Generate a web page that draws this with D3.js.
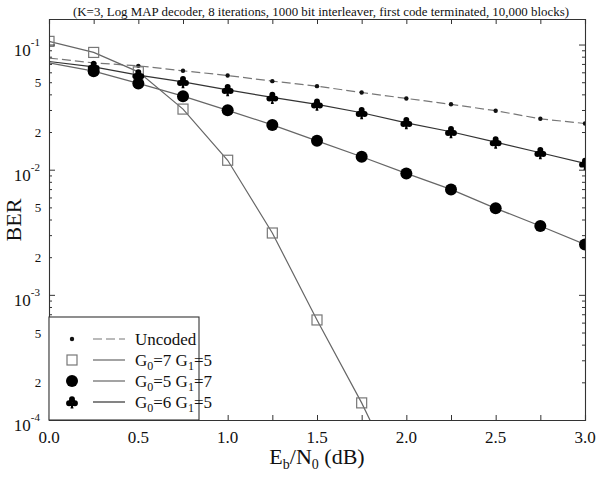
<!DOCTYPE html>
<html>
<head>
<meta charset="utf-8">
<script src="https://cdn.jsdelivr.net/npm/d3@7"></script>
<style>
body { margin: 0; background: #fff; }
svg text { font-family: "Liberation Serif", "DejaVu Serif", serif; fill: #111; }
</style>
</head>
<body>
<svg width="596" height="478" font-family="Liberation Serif"></svg>
<script>
// Eb/N0 points (dB)
var ebno = [0, 0.25, 0.5, 0.75, 1.0, 1.25, 1.5, 1.75, 2.0, 2.25, 2.5, 2.75, 3.0];

// BER values
var uncoded = [0.078, 0.0714, 0.0676, 0.0617, 0.0566, 0.0510, 0.0465, 0.0414, 0.0371, 0.0333, 0.0296, 0.0255, 0.0234];
var g75 = [0.106, 0.0865, 0.0605, 0.0305, 0.0119, 0.00312, 0.00063, 0.000137, 0.000025];
var g57 = [0.0713, 0.0613, 0.0489, 0.0387, 0.0298, 0.0228, 0.0170, 0.01268, 0.00934, 0.00696, 0.00491, 0.00355, 0.00253];
var g65 = [0.0732, 0.0664, 0.0570, 0.0504, 0.0435, 0.0378, 0.0333, 0.0285, 0.0237, 0.0201, 0.0166, 0.01365, 0.01122];

var xTicks = [0, 0.25, 0.5, 0.75, 1.0, 1.25, 1.5, 1.75, 2.0, 2.25, 2.5, 2.75, 3.0];
var xLabels = ["0.0", "0.5", "1.0", "1.5", "2.0", "2.5", "3.0"];
var decades = [1e-4, 1e-3, 1e-2, 1e-1];
var decadeExp = ["-4", "-3", "-2", "-1"];
var minorLabelled = [2, 5];

var titleText = "(K=3, Log MAP decoder, 8 iterations, 1000 bit interleaver, first code terminated, 10,000 blocks)";

var margin = {left: 49, right: 11, top: 19, bottom: 58};
var width = 596, height = 478;

var svg = d3.select("svg");

var x = d3.scaleLinear().domain([0, 3]).range([margin.left, width - margin.right]);
var y = d3.scaleLog().domain([1e-4, 0.16]).range([height - margin.bottom, margin.top]);

// club marker for d3.symbol
var symbolClub = {
  draw: function(ctx, size) {
    var s = Math.sqrt(size);
    function lobe(cx, cy, r) { ctx.moveTo(cx + r, cy); ctx.arc(cx, cy, r, 0, 2 * Math.PI); }
    lobe(0, -0.24 * s, 0.25 * s);
    lobe(-0.25 * s, 0.1 * s, 0.25 * s);
    lobe(0.25 * s, 0.1 * s, 0.25 * s);
    ctx.moveTo(0, 0);
    ctx.lineTo(0.13 * s, 0.55 * s);
    ctx.lineTo(-0.13 * s, 0.55 * s);
    ctx.closePath();
  }
};

var series = [
  {name: "Uncoded", values: uncoded, marker: "dot", dash: "9,4", stroke: "#777", first: 1},
  {name: "G0=7 G1=5", sub: ["7", "5"], values: g75, marker: "square", dash: null, stroke: "#666", first: 0},
  {name: "G0=5 G1=7", sub: ["5", "7"], values: g57, marker: "circle", dash: null, stroke: "#666", first: 1},
  {name: "G0=6 G1=5", sub: ["6", "5"], values: g65, marker: "club", dash: null, stroke: "#333", first: 1}
];

function drawMarker(sel, kind) {
  if (kind === "dot") {
    sel.append("circle").attr("r", 2.2).attr("fill", "#111");
  } else if (kind === "square") {
    sel.append("rect").attr("x", -5).attr("y", -5).attr("width", 10).attr("height", 10)
      .attr("fill", "none").attr("stroke", "#777").attr("stroke-width", 1.2);
  } else if (kind === "circle") {
    sel.append("circle").attr("r", 6).attr("fill", "#000");
  } else {
    sel.append("path").attr("d", d3.symbol().type(symbolClub).size(140)).attr("fill", "#000");
  }
}

svg.append("defs").append("clipPath").attr("id", "clip")
  .append("rect").attr("x", x(0)).attr("y", y(0.16))
  .attr("width", x(3) - x(0)).attr("height", y(1e-4) - y(0.16));

var plot = svg.append("g").attr("clip-path", "url(#clip)");

var line = d3.line()
  .x(function(d, i) { return x(ebno[i]); })
  .y(function(d) { return y(d); });

series.forEach(function(s) {
  plot.append("path")
    .datum(s.values)
    .attr("d", line)
    .attr("fill", "none")
    .attr("stroke", s.stroke)
    .attr("stroke-width", 1.2)
    .attr("stroke-dasharray", s.dash);
});

series.forEach(function(s) {
  var pts = s.values.map(function(v, i) { return {x: ebno[i], v: v, i: i}; })
    .filter(function(d) { return d.i >= s.first && d.v >= 1e-4; });
  plot.selectAll(null)
    .data(pts)
    .enter().append("g")
    .attr("transform", function(d) { return "translate(" + x(d.x) + "," + y(d.v) + ")"; })
    .each(function() { drawMarker(d3.select(this), s.marker); });
});

// axes: ticks pointing inward
var allY = [];
decades.forEach(function(dec) {
  for (var m = 1; m <= 9; m++) {
    var v = dec * m;
    if (v <= 0.16) allY.push(v);
  }
});

function isDecade(v) { return decades.some(function(d) { return Math.abs(d - v) / d < 1e-6; }); }

var gx = svg.append("g").attr("transform", "translate(0," + y(1e-4) + ")")
  .call(d3.axisBottom(x).tickValues(xTicks).tickSize(-5).tickFormat(""));
var gxt = svg.append("g").attr("transform", "translate(0," + y(0.16) + ")")
  .call(d3.axisTop(x).tickValues(xTicks).tickSize(-5).tickFormat(""));
var gy = svg.append("g").attr("transform", "translate(" + x(0) + ",0)")
  .call(d3.axisLeft(y).tickValues(allY).tickSize(-3).tickFormat(""));
var gyr = svg.append("g").attr("transform", "translate(" + x(3) + ",0)")
  .call(d3.axisRight(y).tickValues(allY).tickSize(-3).tickFormat(""));

[gy, gyr].forEach(function(g, k) {
  g.selectAll(".tick line").attr("x2", function(d) {
    var len = isDecade(d) ? 6 : 3;
    return k === 0 ? len : -len;
  });
});

[gx, gxt, gy, gyr].forEach(function(g) {
  g.attr("font-family", null);
  g.select(".domain").attr("stroke", "#333").attr("stroke-width", 1.1);
  g.selectAll(".tick line").attr("stroke", "#333");
});

// x tick labels
svg.append("g").selectAll("text")
  .data(xLabels)
  .enter().append("text")
  .attr("x", function(d) { return x(+d); })
  .attr("y", y(1e-4) + 23)
  .attr("text-anchor", "middle")
  .attr("font-size", 17)
  .text(function(d) { return d; });

// y decade labels 10^n
var yl = svg.append("g").selectAll("text")
  .data(decades)
  .enter().append("text")
  .attr("x", x(0) - 9)
  .attr("y", function(d) { return y(d) + 11; })
  .attr("text-anchor", "end")
  .attr("font-size", 17);
yl.append("tspan").text("10");
yl.append("tspan").attr("font-size", 11).attr("dy", -10)
  .text(function(d, i) { return decadeExp[i]; });

// y minor labels 2 and 5
var minorVals = [];
decades.forEach(function(dec) {
  minorLabelled.forEach(function(m) { if (dec * m <= 0.16) minorVals.push({v: dec * m, m: m}); });
});
svg.append("g").selectAll("text")
  .data(minorVals)
  .enter().append("text")
  .attr("x", x(0) - 11)
  .attr("y", function(d) { return y(d.v) + 5; })
  .attr("text-anchor", "middle")
  .attr("font-size", 13)
  .text(function(d) { return d.m; });

// title
svg.append("text")
  .attr("x", 321).attr("y", 16)
  .attr("text-anchor", "middle")
  .attr("font-size", 13)
  .attr("textLength", 496)
  .attr("lengthAdjust", "spacingAndGlyphs")
  .text(titleText);

// x axis title
var xt = svg.append("text")
  .attr("x", 317).attr("y", 464)
  .attr("text-anchor", "middle")
  .attr("font-size", 22);
xt.append("tspan").text("E");
xt.append("tspan").attr("font-size", 14).attr("dy", 5).text("b");
xt.append("tspan").attr("dy", -5).text("/N");
xt.append("tspan").attr("font-size", 14).attr("dy", 5).text("0");
xt.append("tspan").attr("dy", -5).text(" (dB)");

// y axis title
svg.append("text")
  .attr("transform", "translate(21,220) rotate(-90)")
  .attr("text-anchor", "middle")
  .attr("font-size", 22)
  .text("BER");

// legend
var lg = svg.append("g");
lg.append("rect")
  .attr("x", x(0)).attr("y", 317)
  .attr("width", 150).attr("height", y(1e-4) - 317)
  .attr("fill", "#fff").attr("stroke", "#333").attr("stroke-width", 1.1);

series.forEach(function(s, i) {
  var row = lg.append("g").attr("transform", "translate(" + (x(0) + 23) + "," + (339 + i * 21) + ")");
  drawMarker(row.append("g"), s.marker);
  row.append("line")
    .attr("x1", 21).attr("x2", 53).attr("y1", 0).attr("y2", 0)
    .attr("stroke", s.stroke).attr("stroke-width", 1.2)
    .attr("stroke-dasharray", s.dash);
  var t = row.append("text").attr("x", 63).attr("y", 6).attr("font-size", 17);
  if (!s.sub) {
    t.text(s.name);
  } else {
    t.append("tspan").text("G");
    t.append("tspan").attr("font-size", 12).attr("dy", 4).text("0");
    t.append("tspan").attr("dy", -4).text("=" + s.sub[0] + " G");
    t.append("tspan").attr("font-size", 12).attr("dy", 4).text("1");
    t.append("tspan").attr("dy", -4).text("=" + s.sub[1]);
  }
});
</script>
</body>
</html>
